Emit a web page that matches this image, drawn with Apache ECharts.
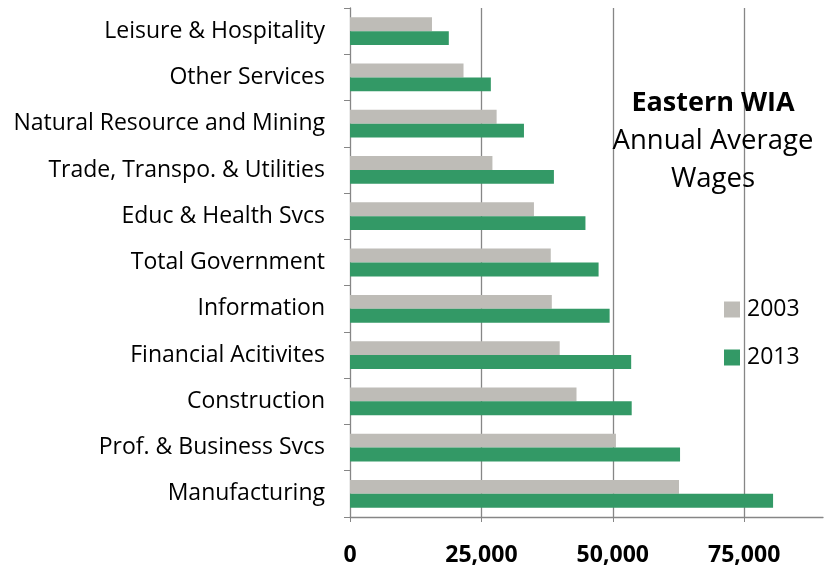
<!DOCTYPE html>
<html>
<head>
<meta charset="utf-8">
<script src="https://cdn.jsdelivr.net/npm/echarts@6/dist/echarts.min.js"></script>
<style>
  html, body { margin: 0; padding: 0; background: #fff; }
  #chart { width: 825px; height: 567px; }
</style>
</head>
<body>
<div id="chart"></div>
<script>
// categories top to bottom
var categories = [
  'Leisure & Hospitality',
  'Other Services',
  'Natural Resource and Mining',
  'Trade, Transpo. & Utilities',
  'Educ & Health Svcs',
  'Total Government',
  'Information',
  'Financial Acitivites',
  'Construction',
  'Prof. & Business Svcs',
  'Manufacturing'
]
var wages2003 = [15600, 21600, 27900, 27100, 35000, 38200, 38400, 39900, 43100, 50600, 62600]
var wages2013 = [18800, 26800, 33100, 38800, 44800, 47300, 49400, 53500, 53600, 62800, 80500]
var xTicks = [0, 25000, 50000, 75000]

var font = '"Open Sans", sans-serif'
var gridColor = '#868686'

var chart = echarts.init(document.getElementById('chart'))
chart.setOption({
  animation: false,
  textStyle: { fontFamily: font },
  title: {
    text: 'Eastern WIA',
    subtext: 'Annual Average\nWages',
    left: 708,
    top: 79,
    textAlign: 'center',
    itemGap: 0,
    textStyle: { fontSize: 27, fontWeight: 'bold', color: '#000', fontFamily: font, lineHeight: 38 },
    subtextStyle: { fontSize: 27.5, color: '#000', lineHeight: 38, fontFamily: font }
  },
  legend: {
    orient: 'vertical',
    left: 719,
    top: 293,
    itemWidth: 16,
    itemHeight: 16,
    itemGap: 25,
    icon: 'rect',
    textStyle: { fontSize: 23, color: '#000', padding: [0, 0, 0, 2] },
    data: ['2003', '2013']
  },
  grid: { left: 350, top: 8, right: 2, bottom: 49, containLabel: false },
  xAxis: {
    type: 'value',
    min: 0,
    max: 90000,
    interval: 25000,
    axisLine: { show: true, lineStyle: { color: gridColor, width: 1.3 } },
    axisTick: { show: true, length: 5, lineStyle: { color: gridColor } },
    axisLabel: {
      showMaxLabel: false,
      fontSize: 23,
      fontWeight: 'bold',
      color: '#000',
      margin: 27,
      formatter: function (v) {
        return xTicks.indexOf(v) >= 0 ? v.toLocaleString('en-US') : ''
      }
    },
    splitLine: {
      show: true,
      showMinLine: false,
      showMaxLine: false,
      lineStyle: { color: gridColor, width: 1.3 }
    }
  },
  yAxis: {
    type: 'category',
    inverse: true,
    data: categories,
    axisLine: { show: true, lineStyle: { color: gridColor, width: 1.3 } },
    axisTick: { show: true, length: 6, lineStyle: { color: gridColor } },
    axisLabel: { fontSize: 23, color: '#000', margin: 25 }
  },
  series: [
    {
      name: '2003',
      type: 'bar',
      data: wages2003,
      barGap: '0%',
      barCategoryGap: '40%',
      itemStyle: { color: '#bebcb7' }
    },
    {
      name: '2013',
      type: 'bar',
      data: wages2013,
      barGap: '0%',
      barCategoryGap: '40%',
      itemStyle: { color: '#339966' }
    }
  ]
})
</script>
</body>
</html>
